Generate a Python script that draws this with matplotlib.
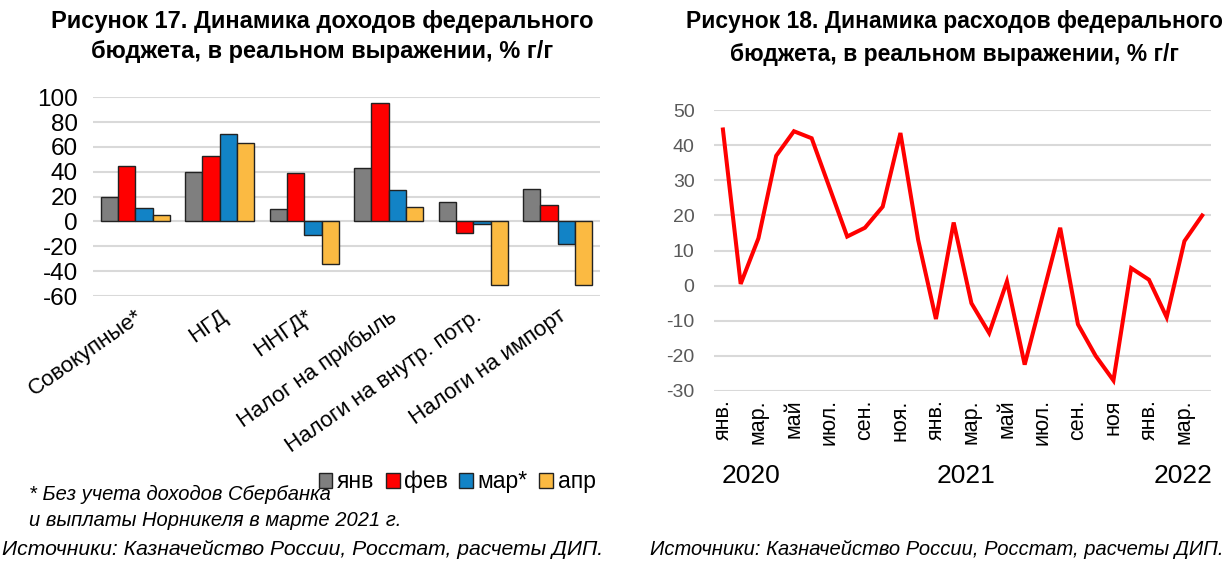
import matplotlib
matplotlib.use("Agg")
import matplotlib.pyplot as plt
import matplotlib.transforms as mtransforms
import numpy as np

plt.rcParams['font.family'] = ['Liberation Sans', 'DejaVu Sans']
plt.rcParams['axes.unicode_minus'] = False

# --- Рисунок 17: доходы, % г/г ---
categories = ["Совокупные*", "НГД", "ННГД*", "Налог на прибыль",
              "Налоги на внутр. потр.", "Налоги на импорт"]
series_names = ["янв", "фев", "мар*", "апр"]
rev_jan = [20, 40, 10, 43, 16, 26]
rev_feb = [45, 53, 39, 95.5, -9, 13.5]
rev_mar = [10.5, 70.5, -11, 25.5, -2, -18]
rev_apr = [5.5, 63, -34, 12, -51.5, -51]

# --- Рисунок 18: расходы, % г/г (янв 2020 - апр 2022) ---
spend = [44.5, 0.5, 13.5, 37, 44, 42, 28, 14, 16.5, 22.5, 43.5, 13,
         -9.5, 18, -5, -13.5, 1.2, -22.5, -3, 16.5, -11, -20, -27, 5,
         1.7, -9, 12.7, 20]
month_labels = ["янв.", "мар.", "май", "июл.", "сен.", "ноя.",
                "янв.", "мар.", "май", "июл.", "сен.", "ноя",
                "янв.", "мар."]
year_labels = ["2020", "2021", "2022"]

BAR_COLORS = ["#7F7F7F", "#FF0000", "#1283C6", "#FBBA42"]
GRID = "#D9D9D9"

fig = plt.figure(figsize=(12.29, 5.65), dpi=100, facecolor="white")

# ---------- left: grouped bars ----------
ax1 = fig.add_axes([0.0757, 0.476, 0.4125, 0.352])
x = np.arange(len(categories))
w = 0.205
for i, (vals, col, name) in enumerate(zip([rev_jan, rev_feb, rev_mar, rev_apr],
                                          BAR_COLORS, series_names)):
    ax1.bar(x + (i - 1.5) * w, vals, width=w, color=col, edgecolor="#222222",
            linewidth=1.0, label=name, zorder=3)
ax1.set_xlim(-0.5, len(categories) - 0.5)
ax1.set_ylim(-60, 100)
ax1.set_yticks(np.arange(-60, 101, 20))
ax1.grid(axis="y", color=GRID, linewidth=1.5, zorder=0)
for s in ax1.spines.values():
    s.set_visible(False)
ax1.tick_params(axis="both", length=0, labelsize=17.5, colors="black")
ax1.tick_params(axis="y", pad=11)
ax1.set_xticks(x)
ax1.set_xticklabels(categories, rotation=35, ha="right", rotation_mode="anchor",
                    fontsize=16)
ax1.tick_params(axis="x", pad=7)

fig.text(0.262, 0.962, "Рисунок 17. Динамика доходов федерального",
         ha="center", va="center", fontsize=17, weight="bold")
fig.text(0.262, 0.908, "бюджета, в реальном выражении, % г/г",
         ha="center", va="center", fontsize=17, weight="bold")

handles, labels = ax1.get_legend_handles_labels()
fig.legend(handles, labels, ncol=4, loc="center", bbox_to_anchor=(0.372, 0.147),
           frameon=False, fontsize=16.5, handlelength=0.6, handleheight=0.6,
           handletextpad=0.2, columnspacing=0.5, borderpad=0)

fig.text(0.024, 0.125, "* Без учета доходов Сбербанка", ha="left", va="center",
         fontsize=14.5, style="italic")
fig.text(0.024, 0.078, "и выплаты Норникеля в марте 2021 г.", ha="left",
         va="center", fontsize=14.5, style="italic")
fig.text(0.002, 0.028, "Источники: Казначейство России, Росстат, расчеты ДИП.",
         ha="left", va="center", fontsize=15.2, style="italic")

# ---------- right: line ----------
ax2 = fig.add_axes([0.581, 0.308, 0.4044, 0.497])
t = np.arange(len(spend))
ax2.plot(t, spend, color="#FF0000", linewidth=2.9, zorder=3,
         solid_joinstyle="miter")
ax2.set_xlim(-0.5, len(spend) - 0.5)
ax2.set_ylim(-30, 50)
ax2.set_yticks(np.arange(-30, 51, 10))
ax2.grid(axis="y", color=GRID, linewidth=1.5, zorder=0)
for s in ax2.spines.values():
    s.set_visible(False)
ax2.tick_params(axis="y", length=0, labelsize=14, colors="#595959", pad=14)
ax2.set_xticks(t[::2])
ax2.set_xticklabels(month_labels, rotation=90, fontsize=15.5, va="top",
                    ha="center")
ax2.tick_params(axis="x", length=0, pad=6)

year_pos = [1.6, 13.7, 25.9]
trans = mtransforms.blended_transform_factory(ax2.transData, fig.transFigure)
for xp, lab in zip(year_pos, year_labels):
    fig.text(xp, 0.158, lab, transform=trans, ha="center", va="center",
             fontsize=19)

fig.text(0.777, 0.962, "Рисунок 18. Динамика расходов федерального",
         ha="center", va="center", fontsize=16.5, weight="bold")
fig.text(0.777, 0.903, "бюджета, в реальном выражении, % г/г",
         ha="center", va="center", fontsize=16.5, weight="bold")
fig.text(0.529, 0.028, "Источники: Казначейство России, Росстат, расчеты ДИП.",
         ha="left", va="center", fontsize=14.5, style="italic")

fig.savefig("out.png", dpi=100, facecolor="white")
plt.close(fig)
